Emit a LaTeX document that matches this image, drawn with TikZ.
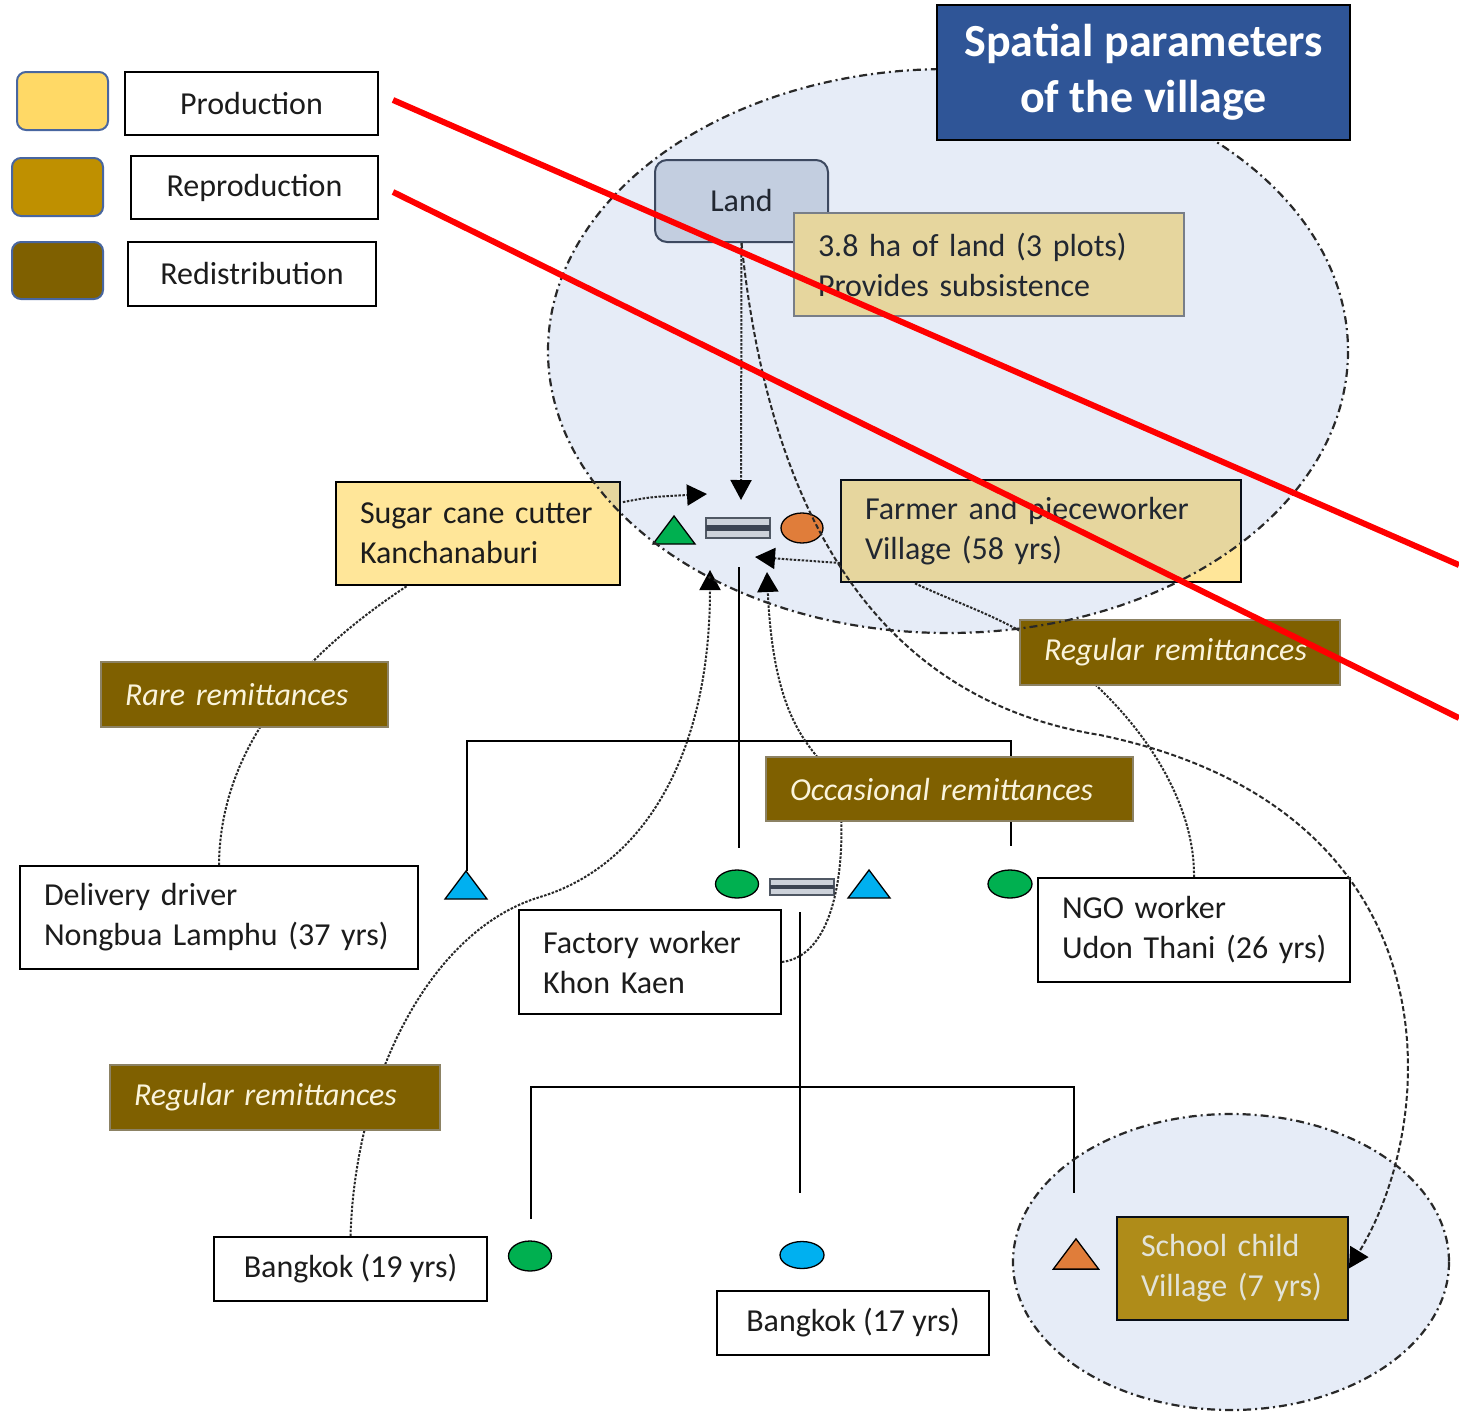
\documentclass[tikz,border=0pt]{standalone}
\usepackage{fontspec}
\setmainfont{Carlito}
\usetikzlibrary{arrows.meta,shapes.geometric,calc}
\definecolor{prodY}{RGB}{255,230,153}
\definecolor{prodL}{RGB}{255,217,102}
\definecolor{repro}{RGB}{191,144,0}
\definecolor{redis}{RGB}{127,96,0}
\definecolor{vblue}{RGB}{68,114,196}
\definecolor{titleb}{RGB}{47,85,151}
\definecolor{landc}{RGB}{214,220,229}
\definecolor{swb}{RGB}{72,102,160}
\definecolor{grn}{RGB}{0,176,80}
\definecolor{cyanb}{RGB}{0,176,240}
\definecolor{orng}{RGB}{224,125,58}
\definecolor{cream}{RGB}{250,244,220}
\definecolor{txt}{RGB}{28,28,28}
\definecolor{dgray}{RGB}{40,40,40}
\definecolor{remb}{RGB}{140,130,100}
\definecolor{barl}{RGB}{205,210,218}
\definecolor{barb}{RGB}{80,88,100}
\definecolor{bard}{RGB}{60,68,82}
\newcommand\mybody{\fontsize{32}{40}\selectfont}
\newcommand\mytitle{\fontsize{46}{56}\selectfont\bfseries}
\begin{document}
\begin{tikzpicture}[x=1pt,y=-1pt,
  every node/.style={font=\mybody, text=txt},
  swatch/.style={draw=swb, line width=2, rounded corners=9, minimum width=91, minimum height=58, inner sep=0},
  lbox/.style={draw=black, line width=1.8, fill=white, inner sep=0, minimum height=63},
  tbox/.style={draw=black, line width=1.8, inner xsep=24, inner ysep=0, align=left},
  wbox/.style={tbox, fill=white},
  rem/.style={draw=remb, line width=1.5, fill=redis, font=\mybody\itshape, text=cream, inner xsep=24, inner ysep=0, align=left, minimum height=65},
  sym/.style={ellipse, draw=black, line width=1.3, inner sep=0},
  gen/.style={line width=2, black},
  dline/.style={draw=dgray, line width=2, dash pattern=on 2.5pt off 1.5pt},
  dashline/.style={draw=dgray, line width=2, dash pattern=on 5pt off 2.5pt},
  tip/.style={-{Triangle[length=20pt,width=21pt,color=black]}},
  vfill/.style={fill=vblue, fill opacity=0.13},
  vborder/.style={draw=dgray, line width=2.2, dash pattern=on 8pt off 4pt on 2pt off 4pt},
  redl/.style={draw=red, line width=6},
  tri/.pic={\path[pic actions] (-21,14) -- (21,14) -- (0,-14) -- cycle;},
  mbar/.pic={\path[draw=barb, fill=barl, line width=1.3] (-32,-10) rectangle (32,10);
             \path[fill=bard] (-32,-3) rectangle (32,3);}
]
\useasboundingbox[fill=white] (0,0) rectangle (1459,1411);

% legend
\node[swatch, fill=prodL] (sw1) at (62.5,101) {};
\node[swatch, fill=repro] (sw2) at (57.5,187) {};
\node[swatch, fill=redis, minimum height=57] (sw3) at (57.5,270.5) {};
\node[lbox, minimum width=253] (lg1) at (251.5,103.5) {Production};
\node[lbox, minimum width=247] (lg2) at (254.5,187.5) {Reproduction};
\node[lbox, minimum width=248, minimum height=64] (lg3) at (252,274) {Redistribution};

% boxes under the village area
\node[draw=bard, line width=2, fill=landc, rounded corners=12, minimum width=173, minimum height=82, inner sep=0] (land) at (741.5,201) {Land};
\node[tbox, draw=gray, fill=prodY, text width=342, minimum height=103] (ha) at (989,264.5) {3.8~ha~of~land~(3~plots)\\Provides~subsistence};
\node[tbox, fill=prodY, text width=236, minimum height=103] (sugar) at (478,533.5) {Sugar~cane~cutter\\Kanchanaburi};
\node[tbox, fill=prodY, text width=352, minimum height=102] (farmer) at (1041,531) {Farmer~and~pieceworker\\Village~(58~yrs)};
\node[tbox, fill=repro, text=cream, text width=183, minimum height=103] (school) at (1232.5,1268.5) {School~child\\Village~(7~yrs)};

% village areas (fill)
\path[vfill] (948,351) ellipse [x radius=400, y radius=282];
\path[vfill] (1231,1262) ellipse [x radius=218, y radius=148];

% kinship symbols
\pic[draw=black, fill=grn, line width=1.3] (t1) at (674,530) {tri};
\pic (m1) at (738,528) {mbar};
\node[sym, fill=orng, minimum width=42, minimum height=30] (e1) at (802,528) {};
\pic[draw=black, fill=cyanb, line width=1.3] (t2) at (466,885) {tri};
\node[sym, fill=grn, minimum width=43, minimum height=28] (c2) at (737,884) {};
\pic[yscale=0.8] (m2) at (802,887) {mbar};
\pic[draw=black, fill=cyanb, line width=1.3] (t3) at (869,884) {tri};
\node[sym, fill=grn, minimum width=44, minimum height=28] (c3) at (1010,884) {};
\node[sym, fill=grn, minimum width=43, minimum height=30] (c4) at (530,1256) {};
\node[sym, fill=cyanb, minimum width=44, minimum height=27] (c5) at (802,1255) {};
\pic[draw=black, fill=orng, line width=1.3, scale=1.08] (t4) at (1076,1254) {tri};

% white boxes
\node[wbox, text width=350, minimum height=103] (driver) at (219,917.5) {Delivery~driver\\Nongbua~Lamphu~(37~yrs)};
\node[wbox, text width=214, minimum height=104] (factory) at (650,962) {Factory~worker\\Khon~Kaen};
\node[wbox, text width=264, minimum height=104] (ngo) at (1194,930) {NGO~worker\\Udon~Thani~(26~yrs)};
\node[draw=black, line width=1.8, fill=white, inner sep=0, minimum width=273, minimum height=64] (bk19) at (350.5,1269) {Bangkok (19 yrs)};
\node[draw=black, line width=1.8, fill=white, inner sep=0, minimum width=272, minimum height=64] (bk17) at (853,1323) {Bangkok (17 yrs)};

% genogram lines
\coordinate (p1) at (739,567); \coordinate (p2) at (739,848);
\coordinate (sL) at (467,741); \coordinate (sR) at (1011,741);
\coordinate (sLb) at (467,871); \coordinate (sRb) at (1011,846);
\draw[gen] (p1) -- (p2);
\draw[gen] (sLb) -- (sL) -- (sR) -- (sRb);
\coordinate (q1) at (800,912); \coordinate (q2) at (800,1193);
\coordinate (uL) at (531,1087); \coordinate (uR) at (1074,1087);
\coordinate (uLb) at (531,1219); \coordinate (uRb) at (1074,1193);
\draw[gen] (q1) -- (q2);
\draw[gen] (uLb) -- (uL) -- (uR) -- (uRb);

% connectors
\coordinate (a1) at (741,500);
\draw[dline, tip] (land.south) -- (a1);
\draw[dashline, tip] (land.south) .. controls (770,520) and (880,700) .. (1100,735)
   .. controls (1460,810) and (1440,1120) .. (school.east);
\coordinate (a2) at (707,494);
\draw[dline, tip] ($(sugar.north east)+(2,21)$) .. controls (650,497) .. (a2);
\coordinate (a3) at (755,557);
\draw[dline, tip] ($(farmer.west)+(0,32)$) -- (a3);
\draw[dline] (ngo.north) .. controls (1195,800) and (1140,715) .. (1060,655)
   .. controls (1000,615) and (960,605) .. ($(farmer.south west)+(74,0)$);
\coordinate (a4) at (710,570);
\draw[dline, tip] (bk19.north) .. controls (355,1080) and (430,930) .. (540,897)
   .. controls (640,867) and (710,760) .. (a4);
\coordinate (a5) at (767,572);
\draw[dline, tip] (factory.east) .. controls (840,955) and (845,850) .. (840,800)
   .. controls (835,750) and (775,760) .. (a5);
\draw[dline] (driver.north) .. controls (220,740) and (310,650) .. ($(sugar.south west)+(72,0)$);

% remittance labels
\node[rem, text width=239] (rare) at (244.5,694.5) {Rare~remittances};
\node[rem, text width=272] (regA) at (1180,652.5) {Regular~remittances};
\node[rem, text width=319, minimum height=64] (occ) at (949.5,789) {Occasional~remittances};
\node[rem, text width=282] (regB) at (275,1097.5) {Regular~remittances};

% village area borders
\path[vborder] (948,351) ellipse [x radius=400, y radius=282];
\path[vborder] (1231,1262) ellipse [x radius=218, y radius=148];

% title
\node[draw=black, line width=2, fill=titleb, text=white, font=\mytitle, align=center, minimum width=413, minimum height=135, inner sep=0] (title) at (1143.5,72.5) {Spatial parameters\\of the village};

% red strike lines
\coordinate (r1) at (393,100); \coordinate (r2) at (1459,565);
\coordinate (r3) at (393,192); \coordinate (r4) at (1459,718);
\draw[redl] (r1) -- (r2);
\draw[redl] (r3) -- (r4);
\end{tikzpicture}
\end{document}
